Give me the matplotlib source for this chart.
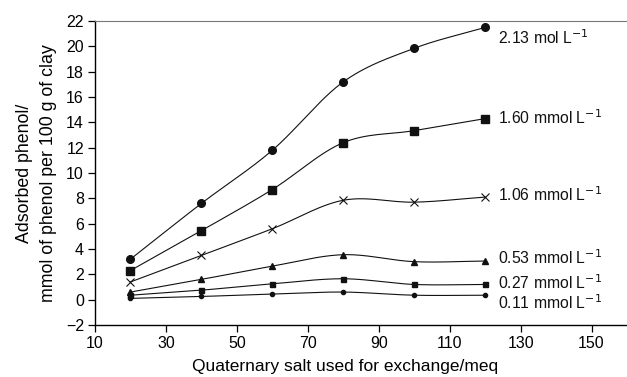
import numpy as np
import matplotlib
matplotlib.use("Agg")
import matplotlib.pyplot as plt

plt.rcParams['font.family'] = ['Liberation Sans', 'DejaVu Sans']

# --- Data ---
salt = [20, 40, 60, 80, 100, 120]
c213 = [3.2, 7.6, 11.8, 17.2, 19.85, 21.5]
c160 = [2.3, 5.45, 8.7, 12.4, 13.35, 14.3]
c106 = [1.4, 3.5, 5.6, 7.85, 7.7, 8.1]
c053 = [0.6, 1.6, 2.65, 3.55, 3.0, 3.05]
c027 = [0.35, 0.75, 1.25, 1.65, 1.2, 1.2]
c011 = [0.1, 0.25, 0.45, 0.6, 0.35, 0.35]

series = [c213, c160, c106, c053, c027, c011]
labels = ['2.13 mol L$^{-1}$', '1.60 mmol L$^{-1}$', '1.06 mmol L$^{-1}$',
          '0.53 mmol L$^{-1}$', '0.27 mmol L$^{-1}$', '0.11 mmol L$^{-1}$']
markers = ['o', 's', 'x', '^', 's', 'o']
msizes = [5.5, 5.2, 6, 3.8, 3.6, 3.0]
label_y = [20.7, 14.4, 8.3, 3.3, 1.35, -0.25]


def smooth(x, y, n=30):
    # Catmull-Rom style smoothing, like a spreadsheet "smoothed line"
    x = np.asarray(x, float)
    y = np.asarray(y, float)
    px = np.concatenate([[2 * x[0] - x[1]], x, [2 * x[-1] - x[-2]]])
    py = np.concatenate([[2 * y[0] - y[1]], y, [2 * y[-1] - y[-2]]])
    xs, ys = [], []
    t = np.linspace(0, 1, n)
    for i in range(1, len(px) - 2):
        for p, out in ((px, xs), (py, ys)):
            p0, p1, p2, p3 = p[i - 1], p[i], p[i + 1], p[i + 2]
            out.extend(0.5 * (2 * p1 + (-p0 + p2) * t
                              + (2 * p0 - 5 * p1 + 4 * p2 - p3) * t ** 2
                              + (-p0 + 3 * p1 - 3 * p2 + p3) * t ** 3))
    return xs, ys


fig = plt.figure(figsize=(6.27, 3.77), dpi=100)
ax = fig.add_axes([0.1515, 0.138, 0.8485, 0.806])

for y, lab, m, ms, ly in zip(series, labels, markers, msizes, label_y):
    sx, sy = smooth(salt, y)
    ax.plot(sx, sy, color='#111111', lw=0.8)
    if m == 'x':
        ax.plot(salt, y, ls='none', marker='x', ms=6, mew=0.8, color='#111111')
    else:
        ax.plot(salt, y, ls='none', marker=m, ms=ms, color='#111111')
    ax.text(123.5, ly, lab, fontsize=11.3, va='center', ha='left', color='#111111')

ax.set_xlim(10, 160)
ax.set_ylim(-2, 22)
ax.set_xticks(np.arange(10, 151, 20))
ax.set_yticks(np.arange(-2, 23, 2))
ax.set_yticklabels([str(v).replace('-', '\u2212') for v in range(-2, 23, 2)])
ax.tick_params(labelsize=11.5, length=5, width=0.9, direction='out', pad=3)

ax.spines['right'].set_visible(False)
ax.spines['top'].set_color('#777777')
for s in ('left', 'bottom'):
    ax.spines[s].set_linewidth(1.0)

ax.set_xlabel('Quaternary salt used for exchange/meq', fontsize=12.5, labelpad=7)
ax.xaxis.set_label_coords(0.47, -0.113)
ax.set_ylabel('Adsorbed phenol/\nmmol of phenol per 100 g of clay', fontsize=12.8,
              labelpad=6, linespacing=1.55)

fig.savefig('out.png', dpi=100)
